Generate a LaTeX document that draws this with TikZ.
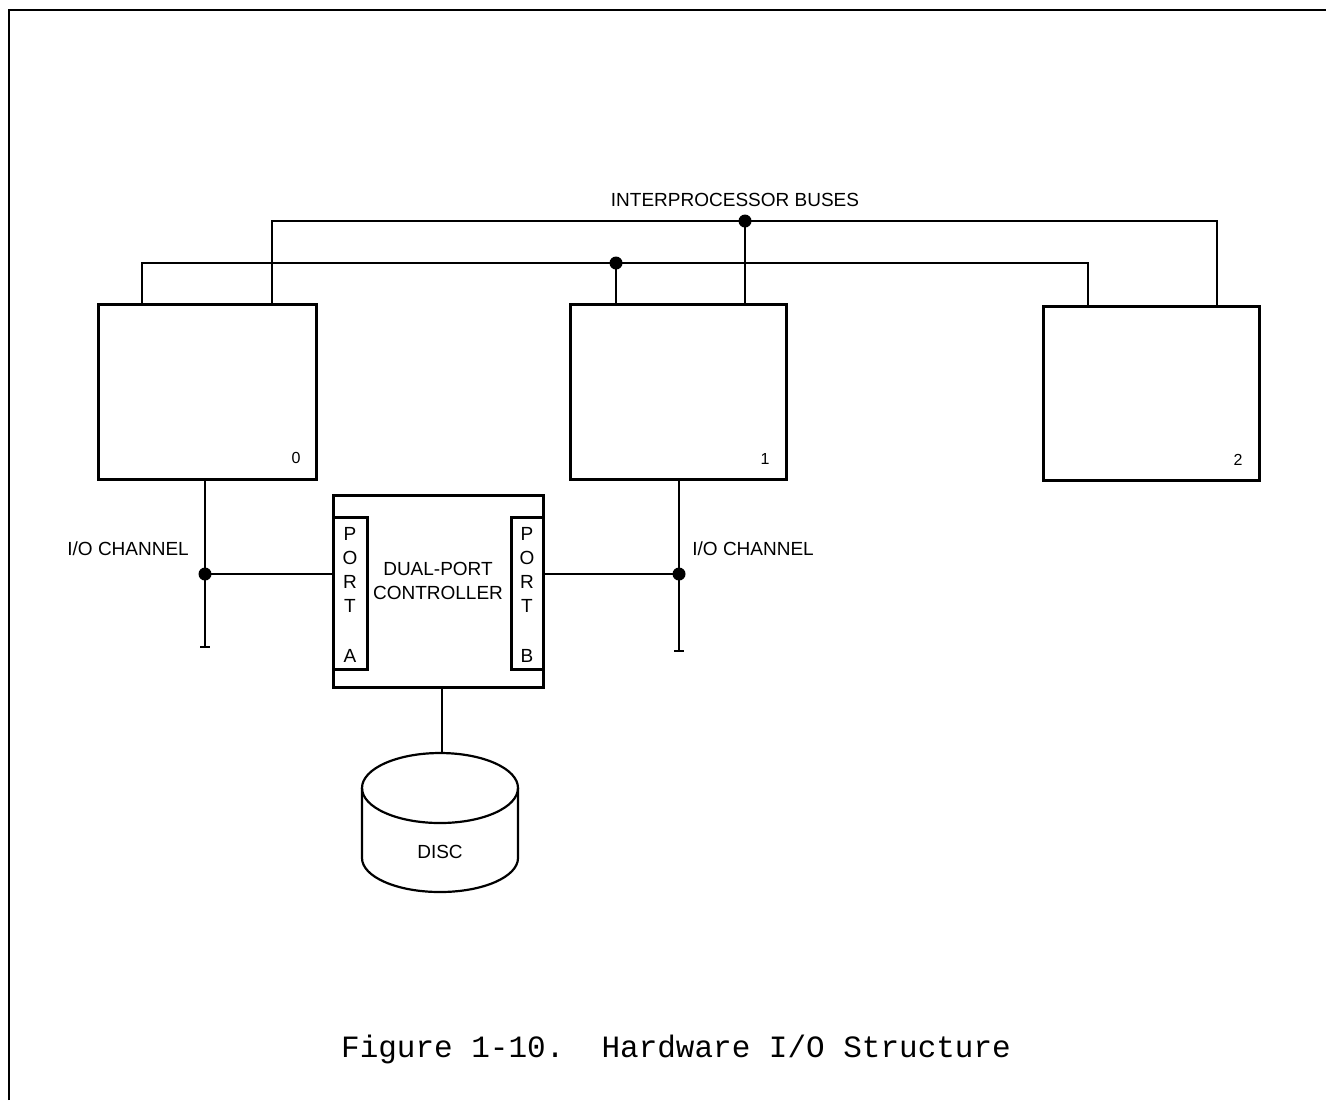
\documentclass[tikz,border=0pt]{standalone}
\usepackage{fontspec}
\setmainfont{Liberation Sans}
\newfontfamily\capfont{Liberation Mono}
\begin{document}
\begin{tikzpicture}[x=0.5pt,y=-0.5pt,
  cpu/.style={draw,line width=1.5pt,minimum width=109pt,minimum height=87.5pt,inner sep=0pt},
  box/.style={draw,line width=1.5pt,inner sep=0pt},
  bus/.style={line width=0.8pt},
  dotc/.style={circle,fill,inner sep=0pt,minimum size=6.5pt},
  lbl/.style={font=\fontsize{9.5}{11}\selectfont,inner sep=0pt},
  num/.style={font=\fontsize{8}{9}\selectfont,inner sep=0pt}]
\useasboundingbox (0,0) rectangle (1326,1100);
% frame
\draw[line width=1pt] (9,1100) -- (9,10) -- (1326,10);
% processors
\node[cpu] (b0) at (207,391.5) {};
\node[cpu,minimum width=108pt] (b1) at (678,391.5) {};
\node[cpu,minimum width=108pt,minimum height=87pt] (b2) at (1151,393) {};
\node[num] (n0) at (296,458) {0};
\node[num] (n1) at (765,459) {1};
\node[num] (n2) at (1238,460) {2};
% buses
\coordinate (aL) at (142,263); \coordinate (aM) at (616,263); \coordinate (aR) at (1088,263);
\coordinate (bL) at (272,221); \coordinate (bM) at (745,221); \coordinate (bR) at (1217,221);
\draw[bus] (b0.north -| aL) -- (aL) -- (aR) -- (b2.north -| aR);
\draw[bus] (b0.north -| bL) -- (bL) -- (bR) -- (b2.north -| bR);
\draw[bus] (aM) -- (b1.north -| aM);
\draw[bus] (bM) -- (b1.north -| bM);
\node[dotc] (dA) at (aM) {};
\node[dotc] (dB) at (bM) {};
\node[lbl] (ipb) at (735,200) {INTERPROCESSOR BUSES};
% controller
\node[box,minimum width=105pt,minimum height=96pt] (ctrl) at (438,591) {};
\node[box,minimum width=17pt,minimum height=76pt] (pA) at (350,593) {};
\node[box,minimum width=16pt,minimum height=76pt] (pB) at (527,593) {};
\foreach \l/\yy [count=\i] in {P/534,O/558,R/582,T/606}{
  \node[lbl] (pAl\i) at (350,\yy) {\l};
  \node[lbl] (pBl\i) at (527,\yy) {\l};
}
\node[lbl] (pAA) at (350,656) {A};
\node[lbl] (pBB) at (527,656) {B};
\node[lbl] (dp1) at (438,569) {DUAL-PORT};
\node[lbl] (dp2) at (438,593) {CONTROLLER};
% I/O channels
\coordinate (jL) at (205,574); \coordinate (eL) at (205,647);
\coordinate (jR) at (679,574); \coordinate (eR) at (679,651);
\draw[bus] (b0.south -| jL) -- (eL);
\draw[bus] ([xshift=-2.5pt]eL) -- ([xshift=2.5pt]eL);
\draw[bus] (jL) -- (ctrl.west |- jL);
\draw[bus] (b1.south -| jR) -- (eR);
\draw[bus] ([xshift=-2.5pt]eR) -- ([xshift=2.5pt]eR);
\draw[bus] (ctrl.east |- jR) -- (jR);
\node[dotc] (djL) at (jL) {};
\node[dotc] (djR) at (jR) {};
\node[lbl,anchor=west] (ioL) at (67,549) {I/O CHANNEL};
\node[lbl,anchor=west] (ioR) at (692,549) {I/O CHANNEL};
% disc
\node[inner sep=0pt,minimum width=77.5pt,minimum height=69.5pt] (disc) at (440,822.5) {};
\draw[line width=1.1pt] (440,788) ellipse [x radius=39pt, y radius=17.5pt];
\draw[line width=1.1pt] (362,788) -- (362,858) arc[start angle=180, end angle=360, x radius=39pt, y radius=17pt] -- (518,788);
\node[lbl] (dl) at (440,852) {DISC};
\coordinate (dc) at (442,0);
\draw[bus] (ctrl.south -| dc) -- (disc.north -| dc);
% caption
\node[font=\capfont\fontsize{15.5}{18}\selectfont,inner sep=0pt] (cap) at (676,1049) {Figure 1-10.\hspace{1.2em}Hardware I/O Structure};
\end{tikzpicture}
\end{document}
